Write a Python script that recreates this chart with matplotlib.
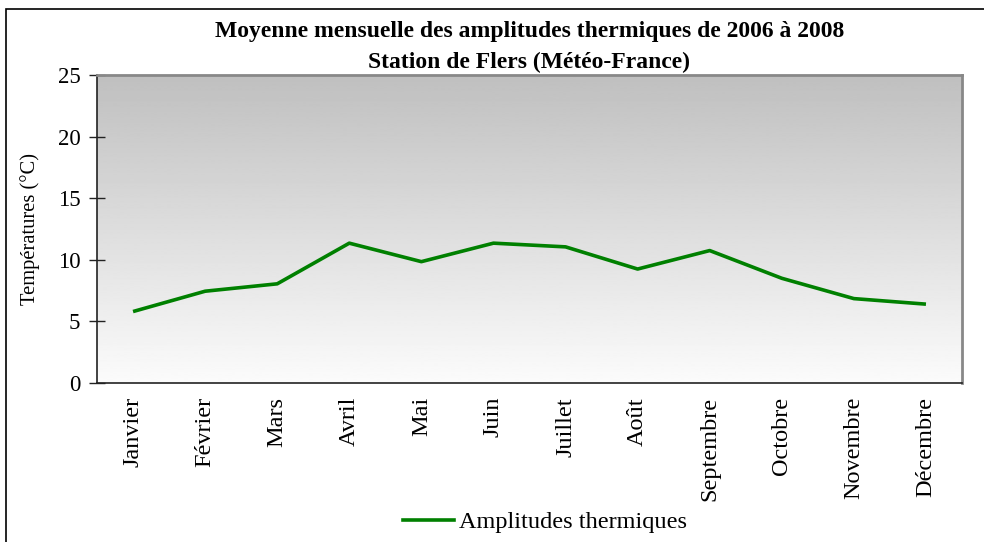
import matplotlib
matplotlib.use("Agg")
import matplotlib.pyplot as plt
import numpy as np
from matplotlib.patches import Rectangle
from matplotlib.lines import Line2D

months = ["Janvier", "Février", "Mars", "Avril", "Mai", "Juin", "Juillet",
          "Août", "Septembre", "Octobre", "Novembre", "Décembre"]
amplitudes = [5.8, 7.45, 8.05, 11.35, 9.85, 11.35, 11.05, 9.25, 10.75, 8.5, 6.85, 6.4]
yticks = [0, 5, 10, 15, 20, 25]

plt.rcParams['font.family'] = ['Liberation Serif', 'DejaVu Serif']

W, H = 984, 542
fig = plt.figure(figsize=(W / 100, H / 100), dpi=100)
fig.patch.set_facecolor("white")

# outer border
fig.add_artist(Rectangle((5.5 / W, -0.05), 1.1, 1 - 9 / H + 0.05, transform=fig.transFigure,
                         fill=False, edgecolor="black", linewidth=1.2))

left, right, top, bottom = 97, 962, 75, 383
ax = fig.add_axes([left / W, 1 - bottom / H, (right - left) / W, (bottom - top) / H])

# gradient background (dark at top, light at bottom)
grad = np.linspace(0.75, 0.985, 256).reshape(-1, 1)
ax.imshow(grad, extent=[0, 1, 0, 1], origin="upper", transform=ax.transAxes, cmap="gray",
          vmin=0, vmax=1, aspect="auto", zorder=0, interpolation="bilinear")

x = np.arange(len(months))
ax.plot(x, amplitudes, color="#008000", linewidth=2.6, zorder=3, solid_capstyle="butt")

ax.set_xlim(-0.5, len(months) - 0.5)
ax.set_ylim(0, 25)
ax.set_yticks(yticks)
ax.set_yticklabels([str(v) for v in yticks], fontsize=16.5)
ax.set_xticks(x)
ax.set_xticklabels(months, rotation=90, fontsize=17.5)
ax.tick_params(axis="x", length=0, pad=10)
ax.tick_params(axis="y", direction="inout", length=12, width=1, pad=6, color="#222222")

for s in ["left", "bottom"]:
    ax.spines[s].set_color("#222222")
    ax.spines[s].set_linewidth(1.2)
for s in ["top", "right"]:
    ax.spines[s].set_color("#888888")
    ax.spines[s].set_linewidth(2)

ax.set_ylabel("Températures (°C)", fontsize=14.8, labelpad=13)

fig.text(0.5 * (left + right) / W + 0.0, 1 - 31 / H, "Moyenne mensuelle des amplitudes thermiques de 2006 à 2008",
         ha="center", va="center", fontsize=17, fontweight="bold")
fig.text(0.5 * (left + right) / W + 0.0, 1 - 62 / H, "Station de Flers (Météo-France)",
         ha="center", va="center", fontsize=17, fontweight="bold")

handle = Line2D([], [], color="#008000", linewidth=2.6)
fig.legend([handle], ["Amplitudes thermiques"], loc="center", bbox_to_anchor=(545 / W, 1 - 522 / H),
           frameon=False, fontsize=17.5, handlelength=2.1, handletextpad=0.2)

fig.savefig("out.png", dpi=100)
